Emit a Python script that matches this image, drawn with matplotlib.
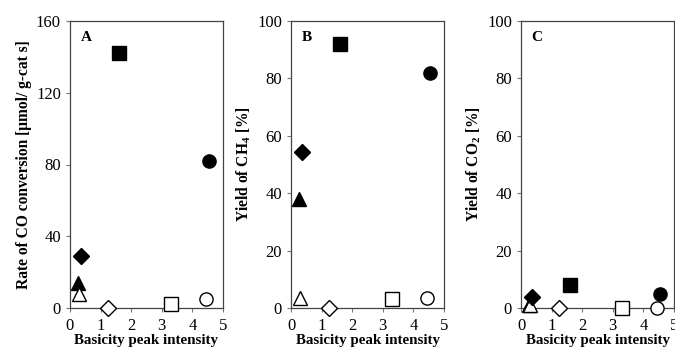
import matplotlib
matplotlib.use("Agg")
from matplotlib import pyplot as plt

plt.rcParams['font.family'] = ['Liberation Serif', 'DejaVu Serif']
plt.rcParams['mathtext.fontset'] = 'custom'
plt.rcParams['mathtext.rm'] = 'Liberation Serif'
plt.rcParams['mathtext.bf'] = 'Liberation Serif:bold'

# basicity peak intensity for each catalyst (same order everywhere)
basicite = [0.25, 0.30, 0.35, 1.25, 1.60, 3.30, 4.45, 4.55]
marqueurs = ['^', '^', 'D', 'D', 's', 's', 'o', 'o']
plein = [True, False, True, False, True, False, False, True]

taux_co = [14, 8, 29, 0, 142, 2, 5, 82]
rendement_ch4 = [38, 3.5, 54.5, 0, 92, 3, 3.5, 82]
rendement_co2 = [1, 1, 4, 0, 8, 0, 0, 5]

panneaux = [
    ("A", taux_co, 160, [0, 40, 80, 120, 160], "Rate of CO conversion [μmol/ g-cat s]"),
    ("B", rendement_ch4, 100, [0, 20, 40, 60, 80, 100], r"Yield of CH$_\mathbf{4}$ [%]"),
    ("C", rendement_co2, 100, [0, 20, 40, 60, 80, 100], r"Yield of CO$_\mathbf{2}$ [%]"),
]

fig = plt.figure(figsize=(6.75, 3.51), dpi=100)
gauches = [70, 291, 521]
largeur = 153
for k, (lettre, valeurs, ymax, yticks, ylabel) in enumerate(panneaux):
    ax = fig.add_axes([gauches[k] / 675, (351 - 308) / 351, largeur / 675, (308 - 21) / 351])
    for x, y, m, p in zip(basicite, valeurs, marqueurs, plein):
        taille = 9.5 if m != 'D' else 8.5
        ax.plot(x, y, m, ms=taille, mfc='black' if p else 'white', mec='black',
                mew=1.0, clip_on=False, zorder=3)
    ax.set_xlim(0, 5)
    ax.set_ylim(0, ymax)
    ax.set_xticks([0, 1, 2, 3, 4, 5])
    ax.set_yticks(yticks)
    ax.tick_params(labelsize=12, length=3, direction='out', width=0.8, colors='#777777',
                   labelcolor='black')
    ax.tick_params(axis='x', pad=4)
    for s in ax.spines.values():
        s.set_color('#444444')
        s.set_linewidth(0.9)
    ax.set_xlabel("Basicity peak intensity", fontsize=10.8, fontweight='bold', labelpad=0)
    ax.set_ylabel(ylabel, fontsize=11.2, fontweight='bold', labelpad=3)
    ax.text(0.07, 0.965, lettre, transform=ax.transAxes, fontsize=11, fontweight='bold',
            va='top', ha='left')

fig.savefig("out.png", dpi=100)
